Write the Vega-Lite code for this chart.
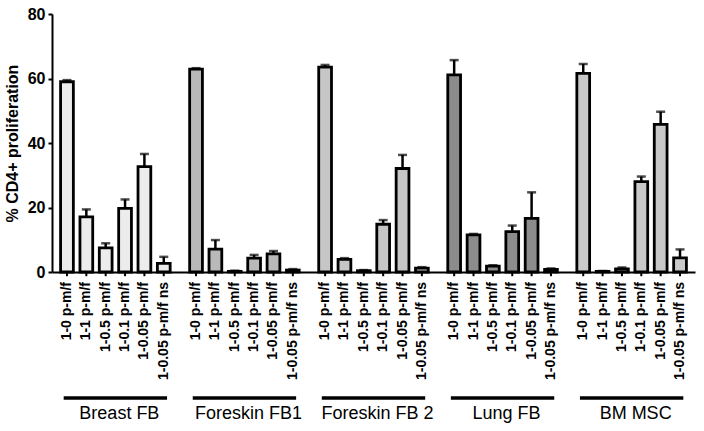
{
  "$schema": "https://vega.github.io/schema/vega-lite/v6.json",
  "width": 643,
  "height": 258,
  "autosize": {"type": "none"},
  "padding": {"left": 52, "top": 14, "right": 9, "bottom": 159},
  "background": "white",
  "config": {"view": {"stroke": null}, "font": "Liberation Sans"},
  "datasets": {
    "bars": [
      {"group": "Breast FB", "cond": "1-0 p-m/f", "value": 59.0, "upper": 59.5},
      {"group": "Breast FB", "cond": "1-1 p-m/f", "value": 17.1, "upper": 19.4},
      {"group": "Breast FB", "cond": "1-0.5 p-m/f", "value": 7.5, "upper": 8.9},
      {"group": "Breast FB", "cond": "1-0.1 p-m/f", "value": 19.7, "upper": 22.5},
      {"group": "Breast FB", "cond": "1-0.05 p-m/f", "value": 32.7, "upper": 36.6},
      {"group": "Breast FB", "cond": "1-0.05 p-m/f ns", "value": 2.7, "upper": 4.7},
      {"group": "Foreskin FB1", "cond": "1-0 p-m/f", "value": 62.9, "upper": 63.2},
      {"group": "Foreskin FB1", "cond": "1-1 p-m/f", "value": 7.1, "upper": 9.9},
      {"group": "Foreskin FB1", "cond": "1-0.5 p-m/f", "value": 0.2, "upper": 0.4},
      {"group": "Foreskin FB1", "cond": "1-0.1 p-m/f", "value": 4.3, "upper": 5.3},
      {"group": "Foreskin FB1", "cond": "1-0.05 p-m/f", "value": 5.6, "upper": 6.5},
      {"group": "Foreskin FB1", "cond": "1-0.05 p-m/f ns", "value": 0.6, "upper": 0.9},
      {"group": "Foreskin FB 2", "cond": "1-0 p-m/f", "value": 63.5, "upper": 64.2},
      {"group": "Foreskin FB 2", "cond": "1-1 p-m/f", "value": 3.9, "upper": 4.3},
      {"group": "Foreskin FB 2", "cond": "1-0.5 p-m/f", "value": 0.4, "upper": 0.6},
      {"group": "Foreskin FB 2", "cond": "1-0.1 p-m/f", "value": 14.8, "upper": 16.1},
      {"group": "Foreskin FB 2", "cond": "1-0.05 p-m/f", "value": 32.1, "upper": 36.3},
      {"group": "Foreskin FB 2", "cond": "1-0.05 p-m/f ns", "value": 1.2, "upper": 1.5},
      {"group": "Lung FB", "cond": "1-0 p-m/f", "value": 61.1, "upper": 65.7},
      {"group": "Lung FB", "cond": "1-1 p-m/f", "value": 11.5, "upper": 11.8},
      {"group": "Lung FB", "cond": "1-0.5 p-m/f", "value": 1.8, "upper": 2.1},
      {"group": "Lung FB", "cond": "1-0.1 p-m/f", "value": 12.5, "upper": 14.4},
      {"group": "Lung FB", "cond": "1-0.05 p-m/f", "value": 16.6, "upper": 24.7},
      {"group": "Lung FB", "cond": "1-0.05 p-m/f ns", "value": 0.8, "upper": 1.1},
      {"group": "BM MSC", "cond": "1-0 p-m/f", "value": 61.6, "upper": 64.5},
      {"group": "BM MSC", "cond": "1-1 p-m/f", "value": 0.2, "upper": 0.3},
      {"group": "BM MSC", "cond": "1-0.5 p-m/f", "value": 1.0, "upper": 1.4},
      {"group": "BM MSC", "cond": "1-0.1 p-m/f", "value": 28.0, "upper": 29.6},
      {"group": "BM MSC", "cond": "1-0.05 p-m/f", "value": 45.8, "upper": 49.7},
      {"group": "BM MSC", "cond": "1-0.05 p-m/f ns", "value": 4.4, "upper": 7.0}
    ],
    "groups": [
      {"group": "Breast FB"},
      {"group": "Foreskin FB1"},
      {"group": "Foreskin FB 2"},
      {"group": "Lung FB"},
      {"group": "BM MSC"}
    ]
  },
  "data": {"name": "bars"},
  "encoding": {
    "x": {
      "field": "group",
      "type": "nominal",
      "sort": ["Breast FB", "Foreskin FB1", "Foreskin FB 2", "Lung FB", "BM MSC"],
      "scale": {"paddingInner": 0.1, "paddingOuter": 0.041},
      "axis": {
        "title": null,
        "domain": true,
        "domainColor": "black",
        "domainWidth": 2,
        "ticks": false,
        "labelAngle": 0,
        "labelFontSize": 18,
        "labelColor": "black",
        "labelBaseline": "alphabetic",
        "labelPadding": 146,
        "labelOffset": 4,
        "grid": false
      }
    }
  },
  "layer": [
    {
      "mark": {"type": "bar", "stroke": "black", "strokeWidth": 2.8},
      "encoding": {
        "xOffset": {
          "field": "cond",
          "type": "nominal",
          "sort": ["1-0 p-m/f", "1-1 p-m/f", "1-0.5 p-m/f", "1-0.1 p-m/f", "1-0.05 p-m/f", "1-0.05 p-m/f ns"],
          "scale": {"paddingInner": 0.34, "paddingOuter": 0.17}
        },
        "y": {
          "field": "value",
          "type": "quantitative",
          "scale": {"domain": [0, 80], "nice": false},
          "axis": {
            "title": "% CD4+ proliferation",
            "titleFontSize": 16,
            "titleFontWeight": "bold",
            "titleColor": "black",
            "titlePadding": 7,
            "values": [0, 5, 10, 15, 20, 25, 30, 35, 40, 45, 50, 55, 60, 65, 70, 75, 80],
            "labelExpr": "datum.value % 20 === 0 ? datum.label : ''",
            "tickSize": {"expr": "datum.value % 20 === 0 ? 4 : 3"},
            "tickWidth": 2,
            "tickColor": "black",
            "domainColor": "black",
            "domainWidth": 2,
            "labelFontSize": 16,
            "labelFontWeight": "bold",
            "labelColor": "black",
            "labelPadding": 3,
            "grid": false
          }
        },
        "color": {
          "field": "group",
          "type": "nominal",
          "sort": ["Breast FB", "Foreskin FB1", "Foreskin FB 2", "Lung FB", "BM MSC"],
          "scale": {"range": ["#ececec", "#b9b9b9", "#c6c6c6", "#8c8c8c", "#c9c9c9"]},
          "legend": null
        }
      }
    },
    {
      "mark": {"type": "rule", "color": "black", "strokeWidth": 2.5},
      "encoding": {
        "xOffset": {"field": "cond", "type": "nominal", "sort": ["1-0 p-m/f", "1-1 p-m/f", "1-0.5 p-m/f", "1-0.1 p-m/f", "1-0.05 p-m/f", "1-0.05 p-m/f ns"]},
        "y": {"field": "value", "type": "quantitative"},
        "y2": {"field": "upper"}
      }
    },
    {
      "mark": {"type": "tick", "color": "black", "thickness": 2.5, "size": 9, "orient": "horizontal"},
      "encoding": {
        "xOffset": {"field": "cond", "type": "nominal", "sort": ["1-0 p-m/f", "1-1 p-m/f", "1-0.5 p-m/f", "1-0.1 p-m/f", "1-0.05 p-m/f", "1-0.05 p-m/f ns"]},
        "y": {"field": "upper", "type": "quantitative"}
      }
    },
    {
      "mark": {"type": "rule", "color": "black", "strokeWidth": 2},
      "encoding": {
        "xOffset": {"field": "cond", "type": "nominal", "sort": ["1-0 p-m/f", "1-1 p-m/f", "1-0.5 p-m/f", "1-0.1 p-m/f", "1-0.05 p-m/f", "1-0.05 p-m/f ns"]},
        "y": {"datum": 0, "type": "quantitative"},
        "y2": {"datum": -1.3}
      }
    },
    {
      "mark": {"type": "text", "angle": 270, "align": "right", "baseline": "middle", "dx": -10, "fontSize": 14, "fontWeight": "bold", "color": "black"},
      "encoding": {
        "xOffset": {"field": "cond", "type": "nominal", "sort": ["1-0 p-m/f", "1-1 p-m/f", "1-0.5 p-m/f", "1-0.1 p-m/f", "1-0.05 p-m/f", "1-0.05 p-m/f ns"]},
        "y": {"datum": 0, "type": "quantitative"},
        "text": {"field": "cond"}
      }
    },
    {
      "data": {"name": "groups"},
      "mark": {"type": "bar", "color": "black", "width": {"band": 0.89}},
      "encoding": {
        "y": {"datum": -38.5, "type": "quantitative"},
        "y2": {"datum": -39.6}
      }
    }
  ]
}
